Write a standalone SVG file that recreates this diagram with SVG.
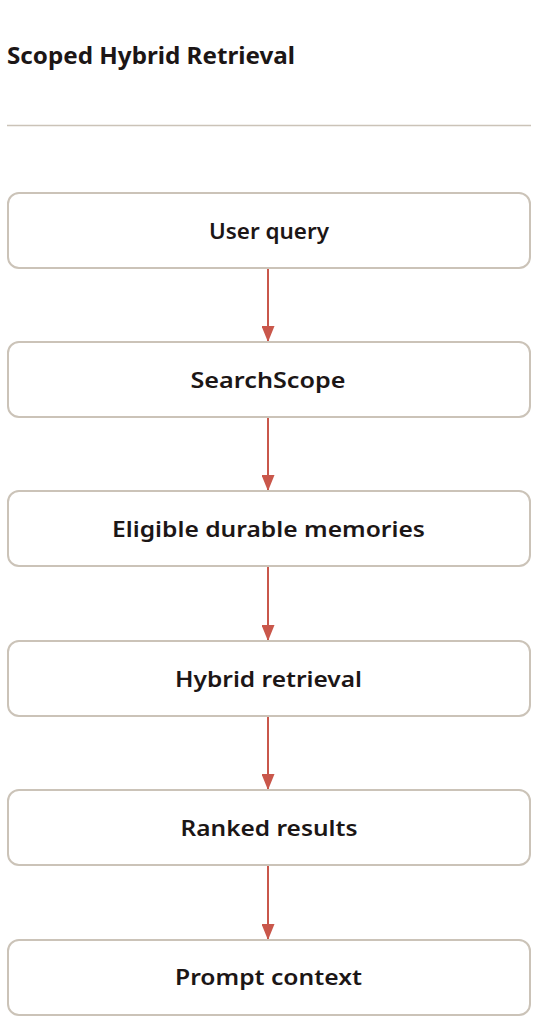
<svg xmlns="http://www.w3.org/2000/svg" width="538" height="1024" viewBox="0 0 538 1024">
<defs>
<style>
.box{fill:#ffffff;stroke:#cbc3b8;stroke-width:2}
.lbl{font-family:"Noto Sans",sans-serif;font-size:22px;font-weight:600;fill:#1c1616;text-anchor:middle}
.title{font-family:"Noto Sans",sans-serif;font-size:23px;font-weight:700;fill:#1c1616}
.edge{stroke:#c9574b;stroke-width:2;fill:none}
</style>
<marker id="arr" viewBox="0 0 16 13" refX="16" refY="6.5" markerWidth="16" markerHeight="13" markerUnits="userSpaceOnUse" orient="auto">
<path d="M0,0 L16,6.5 L0,13 Z" fill="#c9574b"/>
</marker>
</defs>
<rect width="538" height="1024" fill="#ffffff"/>
<text class="title" x="7" y="63.5" textLength="288" lengthAdjust="spacingAndGlyphs">Scoped Hybrid Retrieval</text>
<line x1="7" y1="125.5" x2="531" y2="125.5" stroke="#cbc3b8" stroke-width="1.5"/>
<g id="connectors">
<line class="edge" x1="268" y1="268" x2="268" y2="342" marker-end="url(#arr)"/>
<line class="edge" x1="268" y1="417" x2="268" y2="491" marker-end="url(#arr)"/>
<line class="edge" x1="268" y1="566" x2="268" y2="641" marker-end="url(#arr)"/>
<line class="edge" x1="268" y1="716" x2="268" y2="790" marker-end="url(#arr)"/>
<line class="edge" x1="268" y1="865" x2="268" y2="940" marker-end="url(#arr)"/>
</g>
<g id="user-query">
<rect class="box" x="8" y="193" width="522" height="75" rx="11"/>
<text class="lbl" x="269" y="238.5" textLength="120" lengthAdjust="spacingAndGlyphs">User query</text>
</g>
<g id="search-scope">
<rect class="box" x="8" y="342" width="522" height="75" rx="11"/>
<text class="lbl" x="268" y="388" textLength="155" lengthAdjust="spacingAndGlyphs">SearchScope</text>
</g>
<g id="eligible">
<rect class="box" x="8" y="491" width="522" height="75" rx="11"/>
<text class="lbl" x="268.5" y="537" textLength="313" lengthAdjust="spacingAndGlyphs">Eligible durable memories</text>
</g>
<g id="hybrid">
<rect class="box" x="8" y="641" width="522" height="75" rx="11"/>
<text class="lbl" x="268.5" y="686.5" textLength="187" lengthAdjust="spacingAndGlyphs">Hybrid retrieval</text>
</g>
<g id="ranked">
<rect class="box" x="8" y="790" width="522" height="75" rx="11"/>
<text class="lbl" x="269" y="836" textLength="177" lengthAdjust="spacingAndGlyphs">Ranked results</text>
</g>
<g id="prompt">
<rect class="box" x="8" y="940" width="522" height="75" rx="11"/>
<text class="lbl" x="268.5" y="985" textLength="187" lengthAdjust="spacingAndGlyphs">Prompt context</text>
</g>
</svg>
